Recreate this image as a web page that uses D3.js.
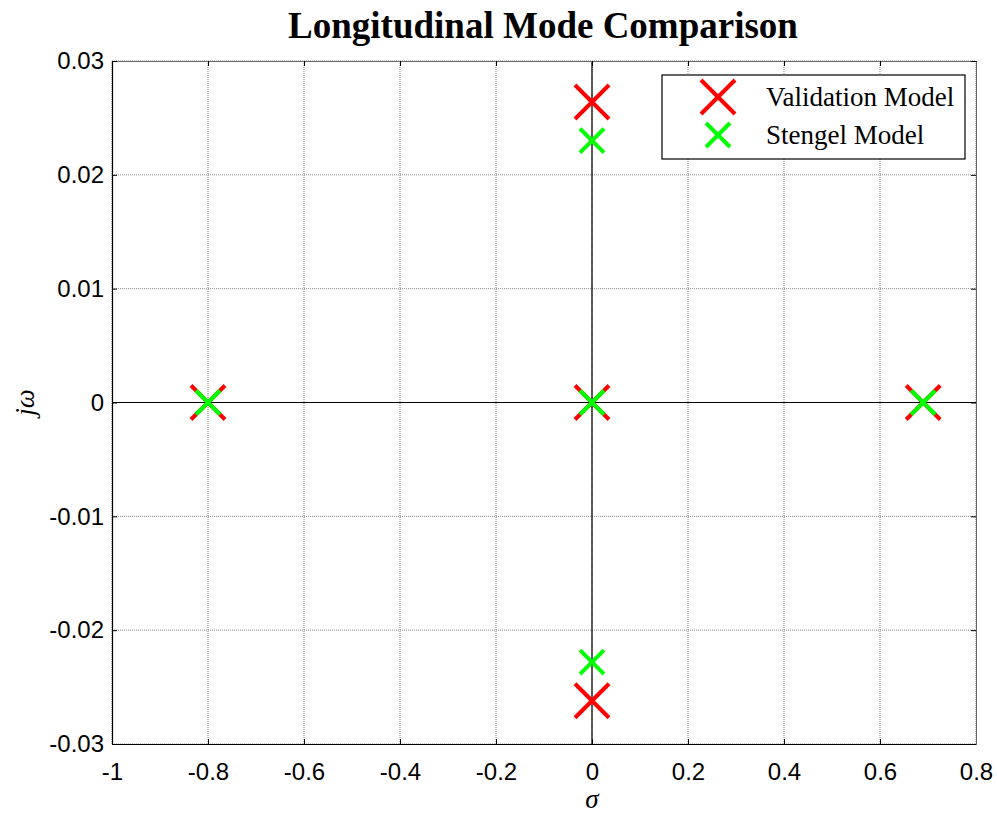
<!DOCTYPE html>
<html>
<head>
<meta charset="utf-8">
<script src="https://cdn.jsdelivr.net/npm/d3@7"></script>
<style>
  body { margin: 0; background: #fff; }
  .tick text { font-family: "Liberation Sans", Arial, sans-serif; font-size: 24px; fill: #000; }
</style>
</head>
<body>
<div id="chart"></div>
<script>
// pole locations
const validationRe = [-0.8, 0, 0.69, 0, 0];
const validationIm = [0, 0, 0, 0.0264, -0.0262];
const stengelRe = [-0.8, 0, 0.69, 0, 0];
const stengelIm = [0, 0, 0, 0.0230, -0.0228];
const xTicks = [-1, -0.8, -0.6, -0.4, -0.2, 0, 0.2, 0.4, 0.6, 0.8];
const yTicks = [-0.03, -0.02, -0.01, 0, 0.01, 0.02, 0.03];
const legendNames = ["Validation Model", "Stengel Model"];

const width = 997, height = 817;
const plotLeft = 112, plotRight = 976, plotTop = 61, plotBottom = 744;

const svg = d3.select('#chart').append('svg')
    .attr('width', width)
    .attr('height', height);

const x = d3.scaleLinear().domain([-1, 0.8]).range([plotLeft, plotRight]);
const y = d3.scaleLinear().domain([-0.03, 0.03]).range([plotBottom, plotTop]);

// plain hyphen minus like matlab
const fmt = d => String(+d.toFixed(4));

// grid
const grid = svg.append('g');
grid.selectAll('line.gx').data(xTicks).enter().append('line')
    .attr('x1', d => x(d)).attr('x2', d => x(d))
    .attr('y1', plotTop).attr('y2', plotBottom)
    .attr('stroke', '#888').attr('stroke-width', 1).attr('stroke-dasharray', '1,1');
grid.selectAll('line.gy').data(yTicks).enter().append('line')
    .attr('y1', d => y(d)).attr('y2', d => y(d))
    .attr('x1', plotLeft).attr('x2', plotRight)
    .attr('stroke', '#888').attr('stroke-width', 1).attr('stroke-dasharray', '1,1');

// zero lines
svg.append('line').attr('x1', x(0)).attr('x2', x(0)).attr('y1', plotTop).attr('y2', plotBottom)
    .attr('stroke', '#000').attr('stroke-width', 1.2);
svg.append('line').attr('x1', plotLeft).attr('x2', plotRight).attr('y1', y(0)).attr('y2', y(0))
    .attr('stroke', '#000').attr('stroke-width', 1.2);

// axes (ticks inward)
const xAxis = svg.append('g').attr('transform', `translate(0,${plotBottom})`)
    .call(d3.axisBottom(x).tickValues(xTicks).tickSizeInner(-5).tickSizeOuter(0).tickPadding(19)
        .tickFormat(fmt));
const xAxisTop = svg.append('g').attr('transform', `translate(0,${plotTop})`)
    .call(d3.axisTop(x).tickValues(xTicks).tickSizeInner(-5).tickSizeOuter(0).tickFormat(''));
const yAxis = svg.append('g').attr('transform', `translate(${plotLeft},0)`)
    .call(d3.axisLeft(y).tickValues(yTicks).tickSizeInner(-5).tickSizeOuter(0).tickPadding(8)
        .tickFormat(fmt));
const yAxisRight = svg.append('g').attr('transform', `translate(${plotRight},0)`)
    .call(d3.axisRight(y).tickValues(yTicks).tickSizeInner(-5).tickSizeOuter(0).tickFormat(''));

[xAxis, yAxis].forEach(a => {
    a.select('.domain').attr('stroke', '#000').attr('stroke-width', 1.2);
    a.selectAll('.tick line').attr('stroke', '#000');
});
[xAxisTop, yAxisRight].forEach(a => {
    a.select('.domain').attr('stroke', '#666').attr('stroke-width', 1);
    a.selectAll('.tick line').attr('stroke', '#000');
});
xAxis.selectAll('.tick text').attr('dy', '0.71em');

// x markers
function cross(g, cx, cy, r, color) {
    g.append('path')
        .attr('d', `M${cx - r},${cy - r}L${cx + r},${cy + r}M${cx - r},${cy + r}L${cx + r},${cy - r}`)
        .attr('stroke', color).attr('stroke-width', 4).attr('fill', 'none');
}
const marks = svg.append('g');
validationRe.forEach((re, i) => cross(marks, x(re), y(validationIm[i]), 17, '#ff0000'));
stengelRe.forEach((re, i) => cross(marks, x(re), y(stengelIm[i]), 12, '#00ff00'));

// title and labels
svg.append('text').attr('x', 543).attr('y', 38).attr('text-anchor', 'middle')
    .style('font-family', '"Liberation Serif", "Times New Roman", serif')
    .style('font-weight', 'bold').style('font-size', '37px')
    .text('Longitudinal Mode Comparison');
svg.append('text').attr('x', x(0)).attr('y', 808).attr('text-anchor', 'middle')
    .style('font-family', '"Liberation Serif", "Times New Roman", serif')
    .style('font-style', 'italic').style('font-size', '27px')
    .text('σ');
svg.append('text').attr('transform', `translate(34,${y(0)}) rotate(-90)`).attr('text-anchor', 'middle')
    .style('font-family', '"Liberation Serif", "Times New Roman", serif')
    .style('font-style', 'italic').style('font-size', '27px')
    .text('jω');

// legend
const lg = svg.append('g');
lg.append('rect').attr('x', 662).attr('y', 75).attr('width', 303).attr('height', 84)
    .attr('fill', '#fff').attr('stroke', '#000').attr('stroke-width', 1.2);
const legendColors = ['#ff0000', '#00ff00'];
const legendSizes = [17, 12];
legendNames.forEach((name, i) => {
    const ly = 97 + i * 38;
    cross(lg, 718, ly, legendSizes[i], legendColors[i]);
    lg.append('text').attr('x', 766).attr('y', ly + 9)
        .style('font-family', '"Liberation Serif", "Times New Roman", serif')
        .style('font-size', '27px')
        .text(name);
});
</script>
</body>
</html>
